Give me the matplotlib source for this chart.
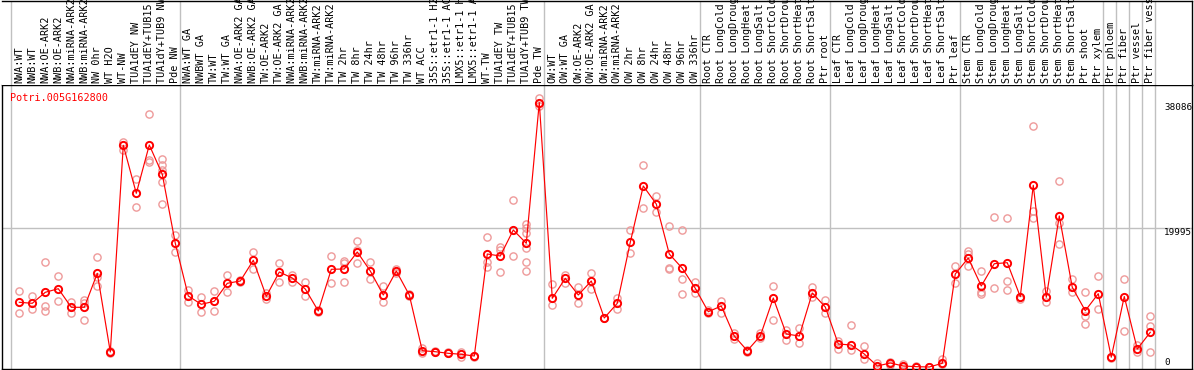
import matplotlib
matplotlib.use('Agg')
import matplotlib.pyplot as plt
import numpy as np

# Sample labels, left to right
LABELS = [
    'NWA:WT', 'NWB:WT', 'NWA:OE-ARK2', 'NWB:OE-ARK2', 'NWA:miRNA-ARK2', 'NWB:miRNA-ARK2',
    'NW 0hr', 'WT H2O', 'WT-NW', 'TUA1dEY NW', 'TUA1dEY+TUB15 NW', 'TUA1dY+TUB9 NW', 'Pde NW',
    'NWA:WT GA', 'NWBWT GA', 'TW:WT', 'TW:WT GA', 'NWA:OE-ARK2 GA', 'NWB:OE-ARK2 GA',
    'TW:OE-ARK2', 'TW:OE-ARK2 GA', 'NWA:miRNA-ARK2 GA', 'NWB:miRNA-ARK2 GA', 'TW:miRNA-ARK2',
    'TW:miRNA-ARK2 GA', 'TW 2hr', 'TW 8hr', 'TW 24hr', 'TW 48hr', 'TW 96hr', 'TW 336hr',
    'WT ACC', '35S::etr1-1 H2O', '35S::etr1-1 ACC', 'LMX5::etr1-1 H2O', 'LMX5::etr1-1 ACC',
    'WT-TW', 'TUA1dEY TW', 'TUA1dEY+TUB15 TW', 'TUA1dY+TUB9 TW', 'Pde TW',
    'OW:WT', 'OW:WT GA', 'OW:OE-ARK2', 'OW:OE-ARK2 GA', 'OW:miRNA-ARK2', 'OW:miRNA-ARK2 GA',
    'OW 2hr', 'OW 8hr', 'OW 24hr', 'OW 48hr', 'OW 96hr', 'OW 336hr',
    'Root CTR', 'Root LongCold', 'Root LongDrought', 'Root LongHeat', 'Root LongSalt',
    'Root ShortCold', 'Root ShortDrought', 'Root ShortHeat', 'Root ShortSalt', 'Ptr root',
    'Leaf CTR', 'Leaf LongCold', 'Leaf LongDrought', 'Leaf LongHeat', 'Leaf LongSalt',
    'Leaf ShortCold', 'Leaf ShortDrought', 'Leaf ShortHeat', 'Leaf ShortSalt', 'Ptr leaf',
    'Stem CTR', 'Stem LongCold', 'Stem LongDrought', 'Stem LongHeat', 'Stem LongSalt',
    'Stem ShortCold', 'Stem ShortDrought', 'Stem ShortHeat', 'Stem ShortSalt', 'Ptr shoot',
    'Ptr xylem', 'Ptr phloem', 'Ptr fiber', 'Ptr vessel', 'Ptr fiber vessel',
]

# Mean expression per sample
MEANS = [
    9317, 9173, 10757, 11275, 8597, 8597, 13493, 2160, 31925, 25013, 31968, 27749, 17813,
    10224, 9029, 9461, 12053, 12384, 15365, 10181, 13680, 12816, 11232, 8064, 14069, 14112,
    16560, 13824, 10368, 13824, 10368, 2347, 2203, 1973, 1829, 1584, 16272, 15984, 19728,
    17813, 38086,
    9893, 12773, 10368, 12384, 7056, 9173, 17957, 26064, 23472, 16272, 14213, 11333,
    7963, 8784, 4464, 2347, 4464, 9936, 4752, 4464, 10656, 8640,
    3312, 3168, 1872, 144, 576, 144, 50, 0, 533, 13392,
    15696, 11664, 14875, 15019, 10123, 26165, 10037, 21744, 11477, 8107, 10555,
    1411, 10152, 2592, 4997,
]

# Individual replicates per sample
REPS = [
    [10944, 7733], [10224, 8395], [15163, 8784, 8064], [13061, 9504], [9403, 7819],
    [9648, 9259, 6768], [15840, 13003, 11664], [2347, 1973], [32400, 31248], [27029, 22997],
    [36389, 29808, 29563], [29952, 29088, 28368, 26683, 23429], [19008, 16603],
    [11088, 9403], [10123, 7877], [10944, 8064], [13248, 10800], [12240, 12530],
    [16560, 14069], [10699, 9792], [14976, 12240], [13291, 12240], [12283, 10181],
    [8208, 7920], [15984, 12053], [15264, 14933, 12240], [18144, 16848, 14976],
    [15120, 12629], [11664, 9360], [13493, 14150], [10200, 10500], [1973, 2700],
    [2203, 2350], [1973, 2100], [2203, 1483], [1584, 1450],
    [18763, 15163, 14443], [17323, 16848, 13637], [24048, 16027],
    [20592, 19973, 19253, 17179, 15077, 13824], [38693, 37584],
    [11952, 8885], [13248, 12139], [11477, 9173], [13579, 11189], [7000, 7100],
    [9979, 8309], [19728, 16416], [29045, 22896], [24624, 22277], [20304, 14213, 14100],
    [19728, 12629, 10469], [12197, 10613],
    [7733, 8208], [9547, 7733], [4853, 3989], [2200, 2500], [4133, 4896],
    [11664, 6768], [5328, 3888], [5616, 3456], [11520, 10080], [9648, 7776],
    [3744, 2592], [6048, 2448], [3024, 1152], [576, 0], [720, 288], [432, 0],
    [0, 100], [0, 0], [1109, 432], [14544, 12139],
    [16747, 16272, 14587], [13824, 10843, 10469], [21600, 11333], [21456, 12384, 11088],
    [10123, 9749], [34704, 22507, 21499], [10987, 9317], [26784, 20693, 17712],
    [12629, 10757], [10800, 7387, 6149], [13104, 8352],
    [1440, 1300], [12629, 5184], [3168, 2203], [7344, 5904, 2117],
]

GROUP_BREAKS = [0, 13, 41, 53, 63, 73, 84, 85, 86, 87, 88]
YTICKS = [38086, 19995, 0]
GENE = 'Potri.005G162800'

W, H = 1194, 370
MONO = 'DejaVu Sans Mono'
GRID = '#c0c0c0'

fig = plt.figure(figsize=(W / 100, H / 100), dpi=100)
left, right = 1.7 / W, 1192 / W
ax = fig.add_axes([left, (H - 369) / H, right - left, (369 - 85) / H])
lab = fig.add_axes([left, (H - 85) / H, right - left, (85 - 0.6) / H], sharex=ax)

x = np.arange(len(LABELS))
ax.set_xlim(-1.354, 90.21)
ax.set_ylim(-288, 40608)
lab.set_ylim(0, 1)

for a in (ax, lab):
    a.set_xticks([])
    a.set_yticks([])
    for s in a.spines.values():
        s.set_color('black')
        s.set_linewidth(1.0)
lab.spines['left'].set_visible(False)
lab.spines['bottom'].set_visible(False)

# group separators
for k in GROUP_BREAKS:
    ax.axvline(k - 0.615, color=GRID, lw=1.0, zorder=1)
    lab.axvline(k - 0.615, color=GRID, lw=1.0, zorder=1)
ax.axhline(19995, color=GRID, lw=1.0, zorder=1)

# replicates
rx = np.concatenate([[i] * len(r) for i, r in enumerate(REPS)])
ry = np.concatenate(REPS)
ax.plot(rx, ry, 'o', ms=5.2, mfc='none', mec='#ee9a9a', mew=1.0, zorder=2)

# means
ax.plot(x, MEANS, '-', color='#ff0000', lw=0.85, zorder=3)
ax.plot(x, MEANS, 'o', ms=5.2, mfc='none', mec='#ff0000', mew=1.4, zorder=4)

for i, name in enumerate(LABELS):
    lab.text(i, 0.027, name, rotation=90, ha='center', va='bottom',
             family=MONO, fontsize=7.3, color='black', clip_on=False)

for v in YTICKS:
    ax.text(0.9765, v, str(v), transform=ax.get_yaxis_transform(),
            ha='left', va='top' if v else 'bottom', family=MONO, fontsize=6.7)

ax.text(0.007, 0.972, GENE, transform=ax.transAxes, ha='left', va='top',
        family=MONO, fontsize=7.3, color='#ff0000')

fig.savefig('out.png', dpi=100)
